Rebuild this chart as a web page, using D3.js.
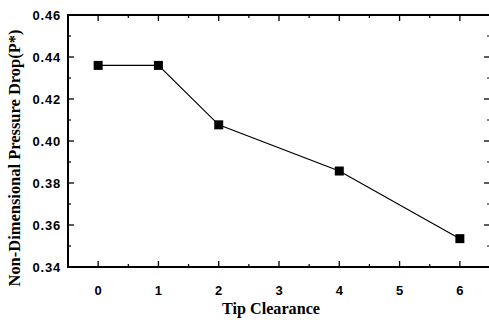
<!DOCTYPE html>
<html><head><meta charset="utf-8">
<script src="https://cdn.jsdelivr.net/npm/d3@7"></script>
<style>body{margin:0;background:#fff}svg{display:block}</style>
</head><body>
<svg id="c" width="489" height="320"></svg>
<script>
const xValues = [0, 1, 2, 4, 6];
const yValues = [0.436, 0.436, 0.4077, 0.3857, 0.3535];
const xTicks = [0, 1, 2, 3, 4, 5, 6];
const yTicks = [0.34, 0.36, 0.38, 0.40, 0.42, 0.44, 0.46];
const xTitle = "Tip Clearance";
const yTitle = "Non-Dimensional Pressure Drop(P*)";

const svg = d3.select("#c");
const L = 68, R = 490, T = 15, B = 267;
const x = d3.scaleLinear().domain([-0.5, 6.5]).range([L, R]);
const y = d3.scaleLinear().domain([0.34, 0.46]).range([B, T]);

const tickFont = "Liberation Sans, Arial, sans-serif";
const g = svg.append("g");

// frame
g.append("rect").attr("x", L).attr("y", T).attr("width", R - L).attr("height", B - T)
  .attr("fill", "none").attr("stroke", "#000").attr("stroke-width", 2);

// x ticks (major + minor), inward, bottom and top
const xMinor = d3.range(-0.5, 6.51, 0.5).filter(v => !xTicks.includes(v));
xTicks.forEach(v => {
  g.append("line").attr("x1", x(v)).attr("x2", x(v)).attr("y1", B).attr("y2", B - 6).attr("stroke", "#000").attr("stroke-width", 1.3);
  g.append("line").attr("x1", x(v)).attr("x2", x(v)).attr("y1", T).attr("y2", T + 6).attr("stroke", "#000").attr("stroke-width", 1.3);
});
xMinor.forEach(v => {
  g.append("line").attr("x1", x(v)).attr("x2", x(v)).attr("y1", B).attr("y2", B - 3).attr("stroke", "#000").attr("stroke-width", 1.2);
  g.append("line").attr("x1", x(v)).attr("x2", x(v)).attr("y1", T).attr("y2", T + 3).attr("stroke", "#000").attr("stroke-width", 1.2);
});
const yMinor = d3.range(0.35, 0.46, 0.02);
yTicks.forEach(v => {
  g.append("line").attr("x1", L).attr("x2", L + 6).attr("y1", y(v)).attr("y2", y(v)).attr("stroke", "#000").attr("stroke-width", 1.3);
  g.append("line").attr("x1", R).attr("x2", R - 6).attr("y1", y(v)).attr("y2", y(v)).attr("stroke", "#000").attr("stroke-width", 1.3);
});
yMinor.forEach(v => {
  g.append("line").attr("x1", L).attr("x2", L + 3).attr("y1", y(v)).attr("y2", y(v)).attr("stroke", "#000").attr("stroke-width", 1.2);
  g.append("line").attr("x1", R).attr("x2", R - 3).attr("y1", y(v)).attr("y2", y(v)).attr("stroke", "#000").attr("stroke-width", 1.2);
});

// tick labels
g.selectAll(".xl").data(xTicks).enter().append("text")
  .attr("x", d => x(d)).attr("y", 295).attr("text-anchor", "middle")
  .attr("font-family", tickFont).attr("font-size", 13).attr("font-weight", "bold")
  .text(d => d);
g.selectAll(".yl").data(yTicks).enter().append("text")
  .attr("x", 61).attr("y", d => y(d) + 4.5).attr("text-anchor", "end")
  .attr("font-family", tickFont).attr("font-size", 13).attr("font-weight", "bold")
  .attr("letter-spacing", 0.8)
  .text(d => d3.format(".2f")(d));

// titles
svg.append("text").attr("x", 271).attr("y", 314).attr("text-anchor", "middle")
  .attr("font-family", "Liberation Serif, Times New Roman, serif").attr("font-weight", "bold")
  .attr("font-size", 17).attr("textLength", 98).attr("lengthAdjust", "spacingAndGlyphs").text(xTitle);
svg.append("text").attr("transform", "translate(20,158) rotate(-90)").attr("text-anchor", "middle")
  .attr("font-family", "Liberation Serif, Times New Roman, serif").attr("font-weight", "bold")
  .attr("font-size", 17).attr("textLength", 257).attr("lengthAdjust", "spacingAndGlyphs").text(yTitle);

// data line and markers
const pts = xValues.map((v, i) => [v, yValues[i]]);
svg.append("path").datum(pts)
  .attr("d", d3.line().x(d => x(d[0])).y(d => y(d[1])))
  .attr("fill", "none").attr("stroke", "#000").attr("stroke-width", 1.2);
svg.selectAll(".m").data(pts).enter().append("rect")
  .attr("x", d => x(d[0]) - 4.5).attr("y", d => y(d[1]) - 4.5)
  .attr("width", 9).attr("height", 9).attr("fill", "#000");
</script>
</body></html>
